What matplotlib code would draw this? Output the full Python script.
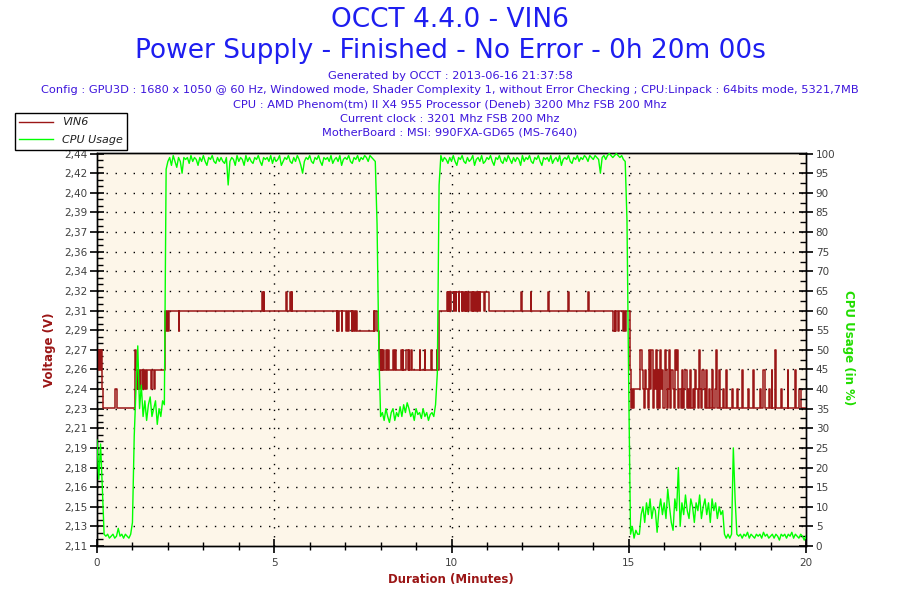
import numpy as np
import matplotlib
matplotlib.use("Agg")
import matplotlib.pyplot as plt
from matplotlib.ticker import MultipleLocator, FixedLocator
from matplotlib.lines import Line2D

plt.rcParams['font.family'] = ['DejaVu Sans']

# ---------------- data ----------------
title_line1 = "OCCT 4.4.0 - VIN6"
title_line2 = "Power Supply - Finished - No Error - 0h 20m 00s"
info_lines = [
    "Generated by OCCT : 2013-06-16 21:37:58",
    "Config : GPU3D : 1680 x 1050 @ 60 Hz, Windowed mode, Shader Complexity 1, without Error Checking ; CPU:Linpack : 64bits mode, 5321,7MB",
    "CPU : AMD Phenom(tm) II X4 955 Processor (Deneb) 3200 Mhz FSB 200 Mhz",
    "Current clock : 3201 Mhz FSB 200 Mhz",
    "MotherBoard : MSI: 990FXA-GD65 (MS-7640)",
]
volt_tick_labels = ["2,11", "2,13", "2,15", "2,16", "2,18", "2,19", "2,21", "2,23", "2,24",
                    "2,26", "2,27", "2,29", "2,31", "2,32", "2,34", "2,36", "2,37", "2,39",
                    "2,40", "2,42", "2,44"]
volt_min, volt_max = 2.11, 2.44
cpu_ticks = list(range(0, 101, 5))
x_ticks = [0, 5, 10, 15, 20]

# VIN6: change points (minutes) and voltage held from that time
vin6_t = [0.00, 0.03, 0.05, 0.08, 0.10, 0.13, 0.18, 0.52, 0.56, 1.06, 1.09,
          1.13, 1.15, 1.17, 1.19, 1.22, 1.24, 1.29, 1.31, 1.33, 1.36, 1.38, 1.40,
          1.53, 1.55, 1.62, 1.64, 1.91, 1.93, 1.96, 1.98, 2.00, 2.02, 2.30, 2.32,
          4.66, 4.68, 4.70, 4.72, 5.33, 5.36, 5.45, 5.47, 5.49, 5.51,
          6.76, 6.78, 6.81, 6.83, 6.90, 6.92, 7.03, 7.06, 7.09, 7.11,
          7.18, 7.20, 7.22, 7.26, 7.28, 7.30, 7.33, 7.80, 7.82, 7.84, 7.89, 7.95, 7.97,
          7.99, 8.01, 8.03, 8.05, 8.07, 8.10, 8.16, 8.18, 8.21, 8.25, 8.35, 8.37,
          8.40, 8.44, 8.58, 8.60, 8.62, 8.64, 8.72, 8.76, 8.79, 8.81, 8.85, 8.89,
          9.10, 9.12, 9.24, 9.26, 9.43, 9.45, 9.58, 9.60, 9.64,
          9.88, 9.90, 9.91, 9.93, 9.95, 9.97, 9.98, 10.06, 10.07, 10.12, 10.13, 10.20,
          10.22, 10.29, 10.30, 10.33, 10.35, 10.38, 10.40, 10.42, 10.43, 10.46, 10.48,
          10.55, 10.57, 10.60, 10.61, 10.64, 10.66, 10.69, 10.71, 10.75, 10.76, 10.79,
          10.80, 10.93, 10.95, 11.05,
          11.97, 12.00, 12.23, 12.25, 12.72, 12.74, 13.30, 13.32, 13.85, 13.89,
          14.56, 14.60, 14.62, 14.64, 14.70, 14.72, 14.84, 14.86, 14.89, 14.91,
          15.04, 15.07, 15.09, 15.13, 15.15, 15.33, 15.36, 15.40, 15.44, 15.46, 15.50,
          15.55, 15.57, 15.60, 15.64, 15.67, 15.70, 15.73, 15.76, 15.79, 15.82, 15.86,
          15.88, 15.92, 15.95, 15.98, 16.01, 16.04, 16.08, 16.10, 16.14, 16.17, 16.20,
          16.24, 16.27, 16.30, 16.33, 16.37, 16.40, 16.43, 16.46, 16.49, 16.53, 16.56,
          16.60, 16.63, 16.66, 16.70, 16.73, 16.76, 16.80, 16.84, 16.88, 16.91, 16.95,
          16.98, 17.01, 17.05, 17.08, 17.11, 17.15, 17.19, 17.22, 17.26, 17.30, 17.34,
          17.37, 17.44, 17.46, 17.48, 17.55, 17.58, 17.66, 17.69, 17.75, 17.78, 17.90,
          17.93, 18.05, 18.08, 18.20, 18.23, 18.35, 18.38, 18.50, 18.53, 18.70, 18.72,
          18.80, 18.83, 18.95, 18.98, 19.03, 19.05, 19.13, 19.16, 19.30, 19.32, 19.48,
          19.50, 19.68, 19.71, 19.80, 19.85, 20.00]
vin6_v = [2.275, 2.258, 2.275, 2.258, 2.275, 2.242, 2.226, 2.242, 2.226, 2.275, 2.258,
          2.242, 2.258, 2.242, 2.258, 2.242, 2.258, 2.242, 2.258, 2.242, 2.258, 2.242, 2.258,
          2.242, 2.258, 2.242, 2.258, 2.275, 2.308, 2.291, 2.308, 2.291, 2.308, 2.291, 2.308,
          2.324, 2.308, 2.324, 2.308, 2.324, 2.308, 2.324, 2.308, 2.324, 2.308,
          2.291, 2.308, 2.291, 2.308, 2.291, 2.308, 2.291, 2.308, 2.291, 2.308,
          2.291, 2.308, 2.291, 2.308, 2.291, 2.308, 2.291, 2.308, 2.291, 2.308, 2.291, 2.275, 2.258,
          2.275, 2.258, 2.275, 2.258, 2.275, 2.258, 2.275, 2.258, 2.275, 2.258, 2.275, 2.258,
          2.275, 2.258, 2.275, 2.258, 2.275, 2.258, 2.275, 2.258, 2.275, 2.258, 2.275, 2.258,
          2.275, 2.258, 2.275, 2.258, 2.275, 2.258, 2.275, 2.258, 2.308,
          2.324, 2.308, 2.324, 2.308, 2.324, 2.308, 2.324, 2.308, 2.324, 2.308, 2.324, 2.308,
          2.324, 2.308, 2.324, 2.308, 2.324, 2.308, 2.324, 2.308, 2.324, 2.308, 2.324,
          2.308, 2.324, 2.308, 2.324, 2.308, 2.324, 2.308, 2.324, 2.308, 2.324, 2.308,
          2.324, 2.308, 2.324, 2.308,
          2.324, 2.308, 2.324, 2.308, 2.324, 2.308, 2.324, 2.308, 2.324, 2.308,
          2.291, 2.308, 2.291, 2.308, 2.291, 2.308, 2.291, 2.308, 2.291, 2.308,
          2.258, 2.226, 2.242, 2.226, 2.242, 2.275, 2.258, 2.242, 2.226, 2.258, 2.242,
          2.226, 2.275, 2.242, 2.275, 2.226, 2.258, 2.242, 2.275, 2.226, 2.258, 2.226,
          2.275, 2.242, 2.258, 2.226, 2.275, 2.258, 2.226, 2.242, 2.275, 2.226, 2.258,
          2.242, 2.226, 2.275, 2.258, 2.275, 2.226, 2.242, 2.226, 2.258, 2.226, 2.242,
          2.258, 2.226, 2.242, 2.226, 2.258, 2.226, 2.242, 2.226, 2.258, 2.242, 2.226,
          2.275, 2.242, 2.226, 2.258, 2.242, 2.226, 2.258, 2.226, 2.242, 2.226, 2.258,
          2.226, 2.242, 2.275, 2.226, 2.258, 2.226, 2.242, 2.226, 2.258, 2.226, 2.242,
          2.226, 2.242, 2.226, 2.258, 2.226, 2.242, 2.226, 2.258, 2.226, 2.242, 2.226,
          2.258, 2.226, 2.242, 2.226, 2.258, 2.226, 2.275, 2.226, 2.242, 2.226, 2.258,
          2.226, 2.258, 2.226, 2.242, 2.226, 2.226]

# CPU usage (%), one reading every 3 seconds from 0 to 20 minutes
cpu_pct = [
    27, 17, 26, 15, 3,
    2.5, 3, 2, 2.5, 3, 2, 2.5, 4.5, 2.5, 3, 2, 3, 2.5, 2, 3,
    6, 28, 40, 51, 35,
    41, 33, 37, 32, 36, 38, 33, 35, 37, 31, 35, 33, 37, 36,
    96,
    98, 99, 97, 99.5, 98, 96.5, 99, 98, 95, 99,
    98.5, 99, 97.5, 99.5, 98, 99, 98.5, 97, 99, 98,
    99.5, 98, 97, 99, 98.5, 99.5, 98, 97.5, 99, 98,
    99, 98, 97.5, 99, 92, 98, 99, 98.5, 97, 99.5,
    98, 99, 98.5, 97, 99.5, 98, 99, 98, 97.5, 99,
    98.5, 99.5, 98, 97, 99, 98.5, 99, 98, 99.5, 97.5,
    99, 98, 98.5, 99.5, 97, 98, 99, 98.5, 99.5, 98,
    97.5, 99, 98, 99.5, 98.5, 97, 95, 98, 99, 98.5,
    99.5, 98, 97.5, 99, 98.5, 99.5, 98, 97, 99, 98.5,
    99, 98, 99.5, 97.5, 98.5, 99, 98, 99.5, 97, 98.5,
    99, 98.5, 99.5, 98, 97.5, 99, 98.5, 99.5, 98, 99,
    98.5, 99.5, 99, 98, 99.5, 99, 98.5, 98,
    82, 50, 33,
    34, 32, 35, 33, 31.5, 34, 35, 32, 34, 33, 35.5, 33, 36, 34, 36.5,
    35, 33, 34, 32, 35, 33.5, 34, 32.5, 35, 33, 34, 32, 33.5, 34, 33,
    36, 44, 92,
    99.5, 98, 99, 98.5, 97.5, 99, 98, 99.5, 98, 97,
    99, 98.5, 99.5, 98, 97.5, 99, 98, 98.5, 99.5, 97,
    98.5, 99, 98, 99.5, 97.5, 98, 99, 98.5, 99.5, 98,
    97, 99, 98.5, 99.5, 98, 97.5, 99, 98, 99.5, 98.5,
    97.5, 99, 98, 99, 98.5, 97, 99.5, 98, 99, 98.5,
    99.5, 98, 97.5, 99, 98.5, 99.5, 98, 97, 99, 98.5,
    99, 98, 99.5, 97.5, 98.5, 99, 98, 99.5, 97, 98.5,
    99, 98.5, 99.5, 98, 97.5, 99, 98.5, 99.5, 98, 99,
    98.5, 99.5, 99, 98, 99.5, 99, 98.5, 99.5, 99, 98.5,
    95, 99, 99.5, 98.5, 99.5, 100, 99.5, 99, 99.5, 100,
    99.5, 99, 99.5, 98.5, 98,
    83, 40, 3,
    5, 2, 4, 3, 3,
    8, 10, 6, 11, 8, 12, 7, 10, 9, 3.5,
    9, 12, 8, 11, 7, 14.5, 10, 6, 4, 12,
    9, 20, 5, 11, 8, 13, 9, 7, 12, 10,
    6, 11, 9, 13, 7, 10, 12, 8, 11, 6,
    12, 9, 11, 7, 10, 8, 9,
    3, 2, 3, 2, 3,
    25, 12,
    3, 2.5, 3, 2, 3, 2.5, 3.5, 2, 3, 2.5, 2, 3, 2.5, 3, 2, 3.5, 2.5, 3, 2, 2.5,
    3, 2, 3, 2.5, 1.5, 3, 2.5, 3, 2, 3, 2.5, 3.5, 2, 3, 2.5, 2, 3, 2.5, 1.5, 2.5,
]
cpu_t = np.linspace(0, 20, len(cpu_pct))

# ---------------- styling ----------------
RED = '#9B1616'
GREEN = '#00FF00'
BLUE_T = '#1E1EF0'
BLUE_S = '#3C14DC'
TICKC = '#404040'
BG = '#FDF6E9'

fig = plt.figure(figsize=(9, 6), dpi=100)
fig.patch.set_facecolor('white')
W, H = 900, 600
L, R, T, B = 97, 806, 153, 546
ax = fig.add_axes([L / W, 1 - B / H, (R - L) / W, (B - T) / H])
ax.set_facecolor(BG)
ax2 = ax.twinx()

ax.plot(vin6_t, vin6_v, color=RED, lw=1.1, drawstyle='steps-post', zorder=3)
ax2.plot(cpu_t, cpu_pct, color=GREEN, lw=1.0, zorder=4)

ax.set_xlim(0, 20)
ax.set_ylim(volt_min, volt_max + 0.0005)
ax2.set_ylim(0, 100.15)

vt = np.linspace(volt_min, volt_max, len(volt_tick_labels))
ax.set_yticks(vt)
ax.set_yticklabels(volt_tick_labels)
ax.yaxis.set_minor_locator(FixedLocator(np.linspace(volt_min, volt_max, 3 * (len(vt) - 1) + 1)))
ax2.set_yticks(cpu_ticks)
ax2.yaxis.set_minor_locator(MultipleLocator(2.5))
ax.set_xticks(x_ticks)
ax.xaxis.set_minor_locator(MultipleLocator(1))

for a in (ax, ax2):
    for s in a.spines.values():
        s.set_color('black')
        s.set_linewidth(1.0)

ax.tick_params(axis='y', which='major', direction='inout', length=10, width=1.2,
               labelsize=7.5, labelcolor=TICKC, pad=2)
ax.tick_params(axis='y', which='minor', direction='in', length=4, width=1.0)
ax2.tick_params(axis='y', which='major', direction='inout', length=10, width=1.2,
                labelsize=7.5, labelcolor=TICKC, pad=2)
ax2.tick_params(axis='y', which='minor', direction='in', length=4, width=1.0)
ax.tick_params(axis='x', which='major', direction='inout', length=10, width=1.2,
               labelsize=7.5, labelcolor=TICKC, pad=4)
ax.tick_params(axis='x', which='minor', direction='inout', length=6, width=1.0)

# dotted grid
for v in vt[1:-1]:
    ax.axhline(v, color='black', lw=1.0, ls=(0, (1, 5.5)), zorder=1)
for xv in x_ticks[1:-1]:
    ax.axvline(xv, color='black', lw=1.0, ls=(0, (1, 5.5)), zorder=1)

# titles
fig.text(0.5, 1 - 20 / H, title_line1, ha='center', va='center', fontsize=19, color=BLUE_T)
fig.text(0.5, 1 - 51 / H, title_line2, ha='center', va='center', fontsize=19, color=BLUE_T)
for i, line in enumerate(info_lines):
    fig.text(0.5, 1 - (76 + 14.2 * i) / H, line, ha='center', va='center',
             fontsize=8.2, color=BLUE_S)

fig.text(50 / W, 1 - 350 / H, "Voltage (V)", rotation=90, ha='center', va='center',
         fontsize=8.5, fontweight='bold', color=RED)
fig.text(849 / W, 1 - 348 / H, "CPU Usage (in %)", rotation=270, ha='center', va='center',
         fontsize=8.5, fontweight='bold', color='#22DD00')
fig.text(451 / W, 1 - 580 / H, "Duration (Minutes)", ha='center', va='center',
         fontsize=8.5, fontweight='bold', color=RED)

handles = [Line2D([0], [0], color=RED, lw=1), Line2D([0], [0], color=GREEN, lw=1)]
leg = fig.legend(handles, ["VIN6", "CPU Usage"], loc='upper left',
                 bbox_to_anchor=(15 / W, 1 - 113 / H), fancybox=False, framealpha=1,
                 edgecolor='black', borderaxespad=0, borderpad=0.4, labelspacing=0.7,
                 handlelength=3.0, handletextpad=0.8,
                 prop={'size': 8, 'style': 'italic'})
leg.get_frame().set_linewidth(1.0)
for t in leg.get_texts():
    t.set_color('#202020')

fig.savefig('out.png', dpi=100)
